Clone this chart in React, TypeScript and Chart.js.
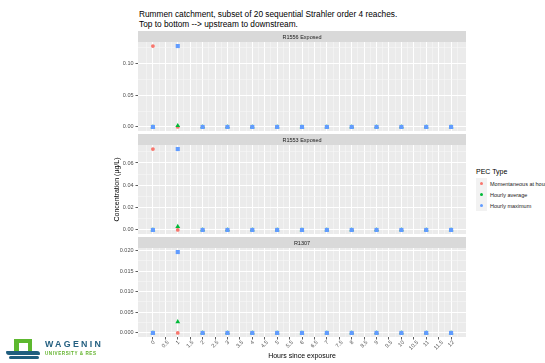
import React, { useEffect, useRef } from "react";
import { Chart, registerables } from "chart.js";

Chart.register(...registerables);

// ---------- data ----------
const hours = [0, 1, 2, 3, 4, 5, 6, 7, 8, 9, 10, 11, 12];
const seriesNames = ["Momentaneous at hour", "Hourly average", "Hourly maximum"];
const seriesColors = ["#F8766D", "#00BA38", "#619CFF"];
const panelNames = ["R1556 Exposed", "R1553 Exposed", "R1307"];

const r1556Momentaneous = [0.127, 0, 0, 0, 0, 0, 0, 0, 0, 0, 0, 0, 0];
const r1556Average = [0, 0.002, 0, 0, 0, 0, 0, 0, 0, 0, 0, 0, 0];
const r1556Maximum = [0, 0.127, 0, 0, 0, 0, 0, 0, 0, 0, 0, 0, 0];

const r1553Momentaneous = [0.0725, 0, 0, 0, 0, 0, 0, 0, 0, 0, 0, 0, 0];
const r1553Average = [0, 0.003, 0, 0, 0, 0, 0, 0, 0, 0, 0, 0, 0];
const r1553Maximum = [0, 0.0725, 0, 0, 0, 0, 0, 0, 0, 0, 0, 0, 0];

const r1307Momentaneous = [0, 0, 0, 0, 0, 0, 0, 0, 0, 0, 0, 0, 0];
const r1307Average = [0, 0.0027, 0, 0, 0, 0, 0, 0, 0, 0, 0, 0, 0];
const r1307Maximum = [0, 0.0196, 0, 0, 0, 0, 0, 0, 0, 0, 0, 0, 0];

const xTickLabels = [
  "0", "0.5", "1", "1.5", "2", "2.5", "3", "3.5", "4", "4.5", "5", "5.5", "6",
  "6.5", "7", "7.5", "8", "8.5", "9", "9.5", "10", "10.5", "11", "11.5", "12",
];
const yTickLabels1556 = ["0.00", "0.05", "0.10"];
const yTickLabels1553 = ["0.00", "0.02", "0.04", "0.06"];
const yTickLabels1307 = ["0.000", "0.005", "0.010", "0.015", "0.020"];

const titleLines = [
  "Rummen catchment, subset of 20 sequential Strahler order 4 reaches.",
  "Top to bottom --> upstream to downstream.",
];
const xAxisTitle = "Hours since exposure";
const yAxisTitle = "Concentration (µg/L)";
const legendTitle = "PEC Type";

// ---------- layout ----------
const FONT = "'Liberation Sans', Arial, sans-serif";
const STRIP_H = 11;
const CANVAS_LEFT = 100;
const CANVAS_W = 370;
const Y_AXIS_W = 38;
const RIGHT_PAD = 4;
const TICK_FONT = 5.5;

type PanelDef = {
  name: string;
  mom: number[];
  avg: number[];
  max: number[];
  yLabels: string[];
  top: number;
  height: number;
  bottomAxis: boolean;
  yTitle: boolean;
};

const panels: PanelDef[] = [
  { name: panelNames[0], mom: r1556Momentaneous, avg: r1556Average, max: r1556Maximum, yLabels: yTickLabels1556, top: 31, height: 100, bottomAxis: false, yTitle: false },
  { name: panelNames[1], mom: r1553Momentaneous, avg: r1553Average, max: r1553Maximum, yLabels: yTickLabels1553, top: 134, height: 100, bottomAxis: false, yTitle: true },
  { name: panelNames[2], mom: r1307Momentaneous, avg: r1307Average, max: r1307Maximum, yLabels: yTickLabels1307, top: 237, height: 126, bottomAxis: true, yTitle: false },
];

function withMinor(majors: number[], lo: number, hi: number) {
  const step = majors.length > 1 ? majors[1] - majors[0] : 1;
  const vals: { value: number; major: boolean }[] = [];
  const first = majors[0] - step / 2;
  if (first > lo) vals.push({ value: first, major: false });
  majors.forEach((m) => {
    vals.push({ value: m, major: true });
    const mid = m + step / 2;
    if (mid < hi) vals.push({ value: mid, major: false });
  });
  return vals;
}

const isMajorIn = (majors: number[], v: number) => majors.some((m) => Math.abs(m - v) < 1e-9);

const panelPlugin = {
  id: "panelDecor",
  beforeDraw(chart: any, _args: any, opts: any) {
    const { ctx, chartArea } = chart;
    const { left, right, top, bottom } = chartArea;
    ctx.save();
    ctx.fillStyle = "#EBEBEB";
    ctx.fillRect(left, top, right - left, bottom - top);
    ctx.fillStyle = "#D9D9D9";
    ctx.fillRect(left, top - STRIP_H, right - left, STRIP_H);
    ctx.fillStyle = "#1A1A1A";
    ctx.font = `5.5px ${FONT}`;
    ctx.textAlign = "center";
    ctx.textBaseline = "middle";
    ctx.fillText(opts.label, (left + right) / 2, top - STRIP_H / 2 + 0.5);
    ctx.restore();
  },
  afterDraw(chart: any, _args: any, opts: any) {
    if (!opts.xLabels) return;
    const { ctx, chartArea } = chart;
    const xs = chart.scales.x;
    ctx.save();
    ctx.fillStyle = "#4D4D4D";
    ctx.font = `${TICK_FONT}px ${FONT}`;
    ctx.textAlign = "center";
    ctx.textBaseline = "middle";
    const h = TICK_FONT * 0.72;
    xTickLabels.forEach((lab) => {
      const v = parseFloat(lab);
      const px = xs.getPixelForValue(v);
      const w = ctx.measureText(lab).width;
      const ext = (w + h) * Math.SQRT1_2;
      const cy = chartArea.bottom + 3.2 + ext / 2;
      ctx.save();
      ctx.translate(px, cy);
      ctx.rotate(-Math.PI / 4);
      ctx.fillText(lab, 0, 0);
      ctx.restore();
    });
    ctx.restore();
  },
};

function Panel({ p }: { p: PanelDef }) {
  const ref = useRef<HTMLCanvasElement>(null);
  useEffect(() => {
    if (!ref.current) return;
    const all = [...p.mom, ...p.avg, ...p.max];
    const dMin = Math.min(...all);
    const dMax = Math.max(...all);
    const pad = (dMax - dMin) * 0.05;
    const yMin = dMin - pad;
    const yMax = dMax + pad;
    const yMajors = p.yLabels.map((s) => parseFloat(s));
    const yTicks = withMinor(yMajors, yMin, yMax);

    const span = hours[hours.length - 1] - hours[0];
    const xMin = hours[0] - span * 0.05;
    const xMax = hours[hours.length - 1] + span * 0.05;
    const xMajors = xTickLabels.map((s) => parseFloat(s));
    const xTicks = withMinor(xMajors, xMin, xMax);

    const mk = (vals: number[]) => hours.map((hh, i) => ({ x: hh, y: vals[i] }));

    const chart = new Chart(ref.current, {
      type: "scatter",
      data: {
        datasets: [
          { label: seriesNames[2], data: mk(p.max), pointStyle: "rect", pointRadius: 2.9, pointBackgroundColor: seriesColors[2], pointBorderWidth: 0, borderWidth: 0 },
          { label: seriesNames[1], data: mk(p.avg), pointStyle: "triangle", pointRadius: 2.8, pointBackgroundColor: seriesColors[1], pointBorderWidth: 0, borderWidth: 0 },
          { label: seriesNames[0], data: mk(p.mom), pointStyle: "circle", pointRadius: 1.9, pointBackgroundColor: seriesColors[0], pointBorderWidth: 0, borderWidth: 0 },
        ],
      },
      options: {
        responsive: false,
        animation: false,
        events: [],
        layout: { padding: { top: STRIP_H, right: RIGHT_PAD, left: 0, bottom: 0 }, autoPadding: false },
        plugins: {
          legend: { display: false },
          tooltip: { enabled: false },
          title: { display: false },
          panelDecor: { label: p.name, xLabels: p.bottomAxis },
        } as any,
        scales: {
          x: {
            type: "linear",
            min: xMin,
            max: xMax,
            afterBuildTicks: (s: any) => {
              s.ticks = xTicks.map((t) => ({ value: t.value }));
            },
            afterFit: (s: any) => {
              s.height = p.bottomAxis ? 26 : 0;
              s.paddingLeft = 0;
              s.paddingRight = 0;
              s.paddingTop = 0;
              s.paddingBottom = 0;
            },
            border: { display: false },
            grid: {
              drawOnChartArea: true,
              drawTicks: p.bottomAxis,
              tickLength: 2.5,
              tickWidth: 0.8,
              tickColor: (c: any) => (isMajorIn(xMajors, c.tick.value) ? "#333333" : "rgba(0,0,0,0)"),
              color: (c: any) => (isMajorIn(xMajors, c.tick?.value) ? "#FFFFFF" : "#F6F6F6"),
              lineWidth: (c: any) => (isMajorIn(xMajors, c.tick?.value) ? 1 : 0.6),
            },
            ticks: {
              display: false,
              autoSkip: false,
            },
            title: {
              display: p.bottomAxis,
              text: xAxisTitle,
              color: "#000000",
              font: { size: 7, family: FONT },
              padding: { top: 0, bottom: 3 },
            },
          },
          y: {
            type: "linear",
            min: yMin,
            max: yMax,
            afterBuildTicks: (s: any) => {
              s.ticks = yTicks.map((t) => ({ value: t.value }));
            },
            afterFit: (s: any) => {
              s.width = Y_AXIS_W;
              s.paddingLeft = 0;
              s.paddingRight = 0;
              s.paddingTop = 0;
              s.paddingBottom = 0;
            },
            border: { display: false },
            grid: {
              drawOnChartArea: true,
              drawTicks: true,
              tickLength: 2.5,
              tickWidth: 0.8,
              tickColor: (c: any) => (isMajorIn(yMajors, c.tick.value) ? "#333333" : "rgba(0,0,0,0)"),
              color: (c: any) => (isMajorIn(yMajors, c.tick?.value) ? "#FFFFFF" : "#F6F6F6"),
              lineWidth: (c: any) => (isMajorIn(yMajors, c.tick?.value) ? 1 : 0.6),
            },
            ticks: {
              autoSkip: false,
              padding: 2,
              color: "#4D4D4D",
              font: { size: TICK_FONT, family: FONT },
              callback: (v: any) => {
                const i = yMajors.findIndex((m) => Math.abs(m - v) < 1e-9);
                return i >= 0 ? p.yLabels[i] : "";
              },
            },
            title: {
              display: p.yTitle,
              text: yAxisTitle,
              color: "#000000",
              font: { size: 7, family: FONT },
              padding: { top: 12.5, bottom: 0 },
            },
          },
        },
      } as any,
      plugins: [panelPlugin],
    });
    return () => chart.destroy();
  }, [p]);

  return (
    <canvas
      ref={ref}
      width={CANVAS_W}
      height={p.height}
      style={{ position: "absolute", left: CANVAS_LEFT, top: p.top, width: CANVAS_W, height: p.height }}
    />
  );
}

function Logo() {
  return (
    <div style={{ position: "absolute", left: 0, top: 330, width: 120, height: 33 }}>
      <div style={{ position: "absolute", left: 14, top: 9, width: 18, height: 14, background: "#5DB82F" }} />
      <div style={{ position: "absolute", left: 18.5, top: 13, width: 9.5, height: 10, background: "#FFFFFF" }} />
      <div style={{ position: "absolute", left: 6, top: 21, width: 34, height: 4, background: "#1F5E7E", borderRadius: "2px 6px 2px 6px" }} />
      <div style={{ position: "absolute", left: 9, top: 25.5, width: 30, height: 3, background: "#1F5E7E", borderRadius: "3px" }} />
      <div style={{ position: "absolute", left: 45, top: 9, fontFamily: FONT, fontWeight: "bold", fontSize: 8.8, letterSpacing: 2.3, color: "#235F80", lineHeight: "10px", whiteSpace: "nowrap" }}>
        WAGENIN
      </div>
      <div style={{ position: "absolute", left: 45, top: 21, fontFamily: FONT, fontWeight: "bold", fontSize: 4.6, letterSpacing: 0.55, color: "#62B32C", lineHeight: "5px", whiteSpace: "nowrap" }}>
        UNIVERSITY &amp; RES
      </div>
    </div>
  );
}

function Legend() {
  return (
    <div style={{ position: "absolute", left: 476, top: 167, fontFamily: FONT, whiteSpace: "nowrap" }}>
      <div style={{ fontSize: 7, color: "#000", lineHeight: "10px", height: 11 }}>{legendTitle}</div>
      {seriesNames.map((n, i) => (
        <div key={n} style={{ position: "relative", height: 11, display: "flex", alignItems: "center" }}>
          <div style={{ width: 11, height: 11, background: "#F2F2F2", position: "relative" }}>
            <div style={{ position: "absolute", left: 3.6, top: 3.6, width: 3.8, height: 3.8, borderRadius: "50%", background: seriesColors[i] }} />
          </div>
          <span style={{ fontSize: 5.5, color: "#1A1A1A", marginLeft: 3 }}>{n}</span>
        </div>
      ))}
    </div>
  );
}

export default function App() {
  return (
    <div style={{ position: "absolute", left: 0, top: 0, width: 545, height: 363, overflow: "hidden", background: "#FFFFFF" }}>
      <div style={{ position: "absolute", left: 139, top: 10, fontFamily: FONT, fontSize: 8.3, lineHeight: "9.5px", color: "#000", whiteSpace: "nowrap" }}>
        {titleLines.map((l) => (
          <div key={l}>{l}</div>
        ))}
      </div>
      {panels.map((p) => (
        <Panel key={p.name} p={p} />
      ))}
      <Legend />
      <Logo />
    </div>
  );
}
